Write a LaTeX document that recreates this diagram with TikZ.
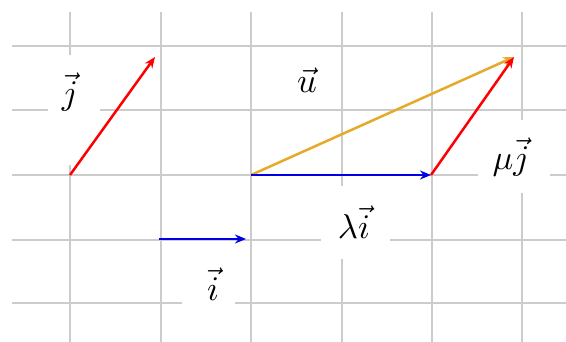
\documentclass[tikz,border=0pt]{standalone}
\usetikzlibrary{arrows.meta}
\begin{document}
\begin{tikzpicture}[x=1pt,y=-1pt,
  gridline/.style={draw=black!20, line width=1.7pt},
  vec/.style={line width=2.5pt, -{Stealth[length=11pt,width=9pt]}},
  wbox/.style={fill=white},
  lab/.style={inner sep=0pt, scale=3.45}]
\useasboundingbox (0,0) rectangle (566,342);
% grid
\foreach \x in {70,161,251,342,432,522} \draw[gridline] (\x,12) -- (\x,342);
\foreach \y in {46,110,175,240,303} \draw[gridline] (12,\y) -- (566,\y);
% white patches that hide the grid behind the labels
\fill[wbox] (48,55) rectangle (100,165);
\fill[wbox] (284,62) rectangle (330,102);
\fill[wbox] (478,120) rectangle (550,193);
\fill[wbox] (321,186) rectangle (390,259);
\fill[wbox] (182,253) rectangle (235,315);
% labels
\node[lab] (tj) at (70,92) {$\vec{j}$};
\node[lab] (tu) at (307,80) {$\vec{u}$};
\node[lab] (tmu) at (511,157) {$\mu\vec{j}$};
\node[lab] (tlam) at (354,222) {$\lambda\vec{i}$};
\node[lab] (ti) at (213,284) {$\vec{i}$};
% points
\coordinate (J0) at (70,175);
\coordinate (J1) at (155,57);
\coordinate (O) at (251,175);
\coordinate (A) at (431,175);
\coordinate (U1) at (514,57);
\coordinate (I0) at (159,239);
\coordinate (I1) at (246,239);
% vectors
\draw[vec, draw={rgb,255:red,228;green,170;blue,40}, fill={rgb,255:red,228;green,170;blue,40}] (O) -- (U1);
\draw[vec, draw=blue!90!black] (O) -- (A);
\draw[vec, draw=red] (J0) -- (J1);
\draw[vec, draw=red] (A) -- (U1);
\draw[vec, draw=blue!90!black] (I0) -- (I1);
\end{tikzpicture}
\end{document}
